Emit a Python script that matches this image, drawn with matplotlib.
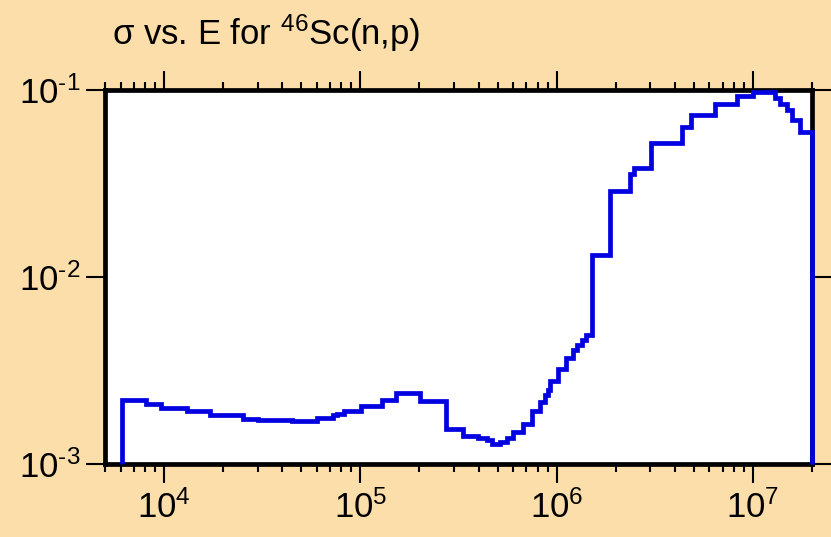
import matplotlib
matplotlib.use("Agg")
import matplotlib.pyplot as plt
from matplotlib.ticker import FixedLocator, FixedFormatter, LogLocator, NullLocator, NullFormatter

plt.rcParams['font.family'] = ['Liberation Sans', 'DejaVu Sans']
plt.rcParams['mathtext.fontset'] = 'custom'
plt.rcParams['mathtext.rm'] = 'Liberation Sans'
plt.rcParams['mathtext.it'] = 'Liberation Sans:italic'
plt.rcParams['mathtext.bf'] = 'Liberation Sans:bold'

# group boundaries (eV) and cross section (b)
edges = [6.08e3, 8.10e3, 9.62e3, 1.315e4, 1.715e4, 2.52e4, 3.02e4, 4.47e4,
         5.12e4, 6.00e4, 7.28e4, 7.58e4, 8.26e4, 1.004e5, 1.285e5, 1.514e5,
         2.014e5, 2.722e5, 3.322e5, 3.99e5, 4.40e5, 4.67e5, 5.15e5, 5.60e5,
         6.02e5, 6.76e5, 7.46e5, 8.23e5, 8.72e5, 9.07e5, 9.25e5, 1.019e6,
         1.112e6, 1.216e6, 1.265e6, 1.341e6, 1.406e6, 1.508e6, 1.870e6,
         2.363e6, 2.476e6, 3.013e6, 4.335e6, 4.834e6, 6.405e6, 8.261e6,
         1.003e7, 1.295e7, 1.373e7, 1.485e7, 1.574e7, 1.735e7, 2.0e7]
sigma = [2.21e-3, 2.09e-3, 2.00e-3, 1.92e-3, 1.82e-3, 1.75e-3, 1.71e-3,
         1.70e-3, 1.695e-3, 1.755e-3, 1.82e-3, 1.855e-3, 1.92e-3, 2.055e-3,
         2.20e-3, 2.40e-3, 2.17e-3, 1.54e-3, 1.42e-3, 1.38e-3, 1.34e-3,
         1.28e-3, 1.31e-3, 1.385e-3, 1.48e-3, 1.63e-3, 1.91e-3, 2.15e-3,
         2.33e-3, 2.48e-3, 2.77e-3, 3.23e-3, 3.70e-3, 4.06e-3, 4.31e-3,
         4.59e-3, 4.87e-3, 1.31e-2, 2.88e-2, 3.56e-2, 3.84e-2, 5.20e-2,
         6.33e-2, 7.37e-2, 8.44e-2, 9.27e-2, 9.80e-2, 9.08e-2, 8.44e-2,
         7.82e-2, 6.91e-2, 5.98e-2]

xmajor = [1e4, 1e5, 1e6, 1e7]
xlabels = [r'$\mathregular{10^{4}}$', r'$\mathregular{10^{5}}$',
           r'$\mathregular{10^{6}}$', r'$\mathregular{10^{7}}$']
ymajor = [1e-3, 1e-2, 1e-1]
ylabels = [r'$\mathregular{10^{‐3}}$', r'$\mathregular{10^{‐2}}$',
           r'$\mathregular{10^{‐1}}$']

bg = '#fcdeaa'
fig = plt.figure(figsize=(8.31, 5.37), dpi=100, facecolor=bg)
ax = fig.add_axes([105 / 831, 1 - 464 / 537, 707 / 831, 374 / 537])
ax.set_facecolor('white')

ax.stairs(sigma, edges, baseline=1e-3, color='#0000e0', lw=3.4,
          zorder=3, clip_on=False)

ax.set_xscale('log')
ax.set_yscale('log')
ax.set_xlim(5e3, 2e7)
ax.set_ylim(1e-3, 1e-1)

ax.xaxis.set_major_locator(FixedLocator(xmajor))
ax.xaxis.set_major_formatter(FixedFormatter(xlabels))
ax.xaxis.set_minor_locator(LogLocator(base=10, subs=range(2, 10), numticks=20))
ax.xaxis.set_minor_formatter(NullFormatter())
ax.yaxis.set_major_locator(FixedLocator(ymajor))
ax.yaxis.set_major_formatter(FixedFormatter(ylabels))
ax.yaxis.set_minor_locator(NullLocator())

for s in ax.spines.values():
    s.set_linewidth(3.4)
ax.tick_params(which='both', direction='out', top=True, right=True,
               width=1.5, labelsize=25, color='black')
ax.tick_params(which='major', length=14)
ax.tick_params(which='minor', length=6)
ax.tick_params(axis='x', pad=5)
ax.tick_params(axis='y', pad=4)

fig.text(112 / 831, 1 - 45 / 537, r'σ vs. E for $\mathregular{^{46}}$Sc(n,p)',
         fontsize=25, va='baseline', ha='left')

fig.savefig('out.png', dpi=100, facecolor=fig.get_facecolor())
